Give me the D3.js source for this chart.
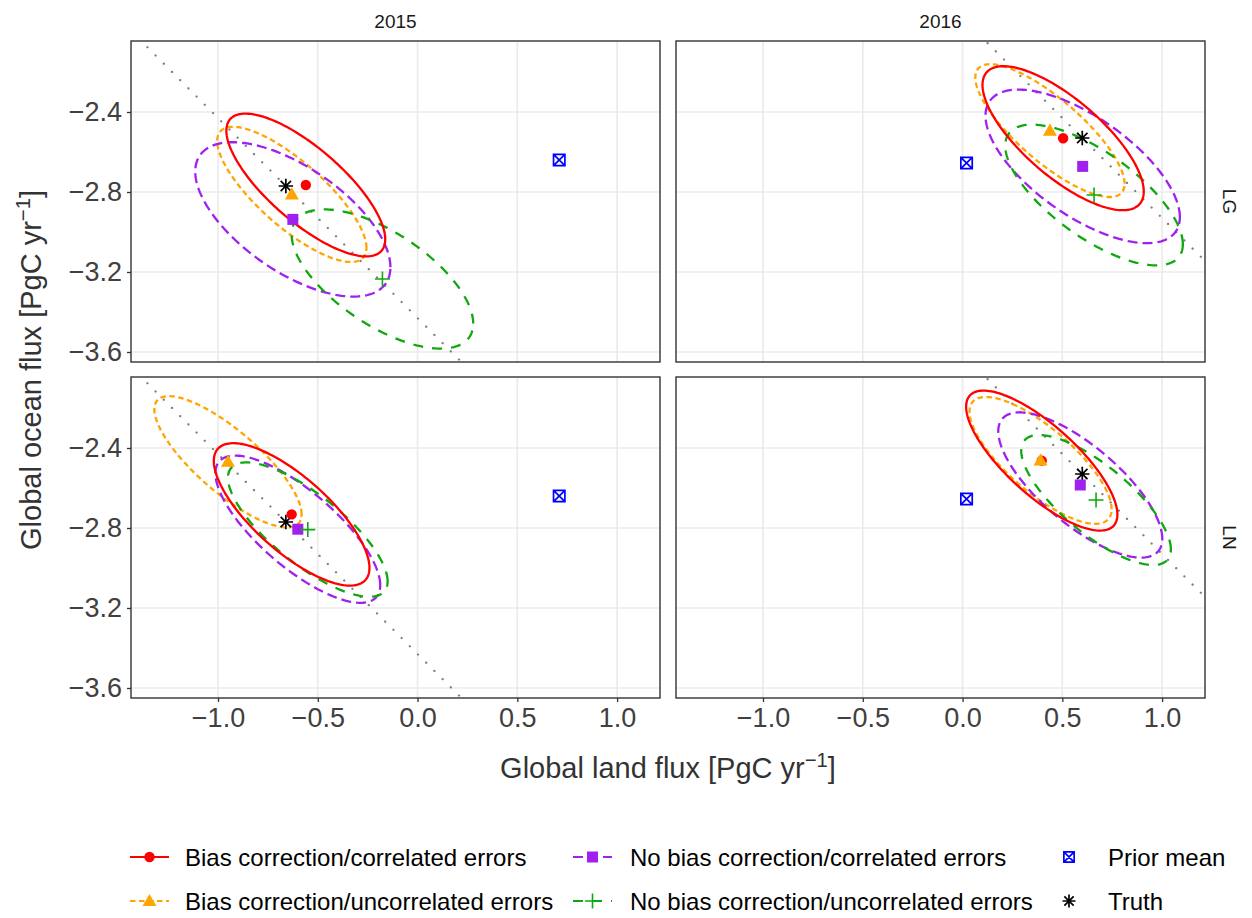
<!DOCTYPE html>
<html><head><meta charset="utf-8">
<script src="https://cdn.jsdelivr.net/npm/d3@7"></script>
<style>
body{margin:0;background:#fff}
svg{display:block;font-family:"Liberation Sans",Arial,Helvetica,sans-serif}
</style>
</head><body>
<svg id="chart" width="1252" height="918"></svg>
<script>
// ---- data -------------------------------------------------------------
const years = ["2015", "2016"];
const schemes = ["LG", "LN"];
// panels row by row: LG-2015, LG-2016, LN-2015, LN-2016
const panelScheme = ["LG", "LG", "LN", "LN"];
const panelYearIdx = [0, 1, 0, 1];

const truthLand = [-0.66, 0.60];     // by year
const truthOcean = [-2.77, -2.53];
const priorLand = [0.71, 0.02];
const priorOcean = [-2.64, -2.655];

const methods = [
  "Bias correction/correlated errors",
  "Bias correction/uncorrelated errors",
  "No bias correction/correlated errors",
  "No bias correction/uncorrelated errors"
];

// posterior means and error ellipses (half extents and correlation), per panel
const bcCorrLand = [-0.56, 0.504, -0.631, 0.397];
const bcCorrOcean = [-2.765, -2.531, -2.732, -2.463];
const bcCorrHalfLand = [0.398, 0.404, 0.390, 0.379];
const bcCorrHalfOcean = [0.357, 0.360, 0.356, 0.350];
const bcCorrRho = [-0.76, -0.74, -0.75, -0.77];

const bcUncLand = [-0.630, 0.438, -0.950, 0.391];
const bcUncOcean = [-2.812, -2.493, -2.469, -2.462];
const bcUncHalfLand = [0.374, 0.374, 0.369, 0.356];
const bcUncHalfOcean = [0.338, 0.332, 0.328, 0.317];
const bcUncRho = [-0.79, -0.80, -0.80, -0.77];

const nbcCorrLand = [-0.625, 0.602, -0.600, 0.590];
const nbcCorrOcean = [-2.937, -2.672, -2.806, -2.585];
const nbcCorrHalfLand = [0.489, 0.487, 0.413, 0.411];
const nbcCorrHalfOcean = [0.386, 0.384, 0.368, 0.363];
const nbcCorrRho = [-0.62, -0.66, -0.76, -0.74];

const nbcUncLand = [-0.176, 0.659, -0.550, 0.669];
const nbcUncOcean = [-3.235, -2.815, -2.808, -2.660];
const nbcUncHalfLand = [0.455, 0.445, 0.400, 0.375];
const nbcUncHalfOcean = [0.348, 0.352, 0.336, 0.325];
const nbcUncRho = [-0.64, -0.70, -0.77, -0.76];

const xTicks = [-1.0, -0.5, 0.0, 0.5, 1.0];
const yTicks = [-3.6, -3.2, -2.8, -2.4];
const xDomain = [-1.436, 1.215];
const yDomain = [-3.65, -2.045];

// ---- styles -----------------------------------------------------------
const methodStyle = [
  {color: "#FF0000", dash: null,      shape: "circle"},
  {color: "#FFA500", dash: "5.5 3.5", shape: "triangle"},
  {color: "#A020F0", dash: "10 5",    shape: "square"},
  {color: "#10A810", dash: "10 9",    shape: "plus"}
];
const methodData = [
  {land: bcCorrLand, ocean: bcCorrOcean, hl: bcCorrHalfLand, ho: bcCorrHalfOcean, rho: bcCorrRho},
  {land: bcUncLand, ocean: bcUncOcean, hl: bcUncHalfLand, ho: bcUncHalfOcean, rho: bcUncRho},
  {land: nbcCorrLand, ocean: nbcCorrOcean, hl: nbcCorrHalfLand, ho: nbcCorrHalfOcean, rho: nbcCorrRho},
  {land: nbcUncLand, ocean: nbcUncOcean, hl: nbcUncHalfLand, ho: nbcUncHalfOcean, rho: nbcUncRho}
];

const svg = d3.select("#chart");
const panelW = 529, panelH = 321;
const colX = [131, 676];
const rowY = [41, 377];
const tickFont = 27, titleFont = 29, legendFont = 24, stripFont = 19;

const x = d3.scaleLinear().domain(xDomain).range([0, panelW]);
const y = d3.scaleLinear().domain(yDomain).range([panelH, 0]);
const fmt = d3.format(".1f");

// marker drawing helper (centered at 0,0)
function drawMarker(g, shape, color, k = 1) {
  if (shape === "circle") {
    g.append("circle").attr("r", 5.2 * k).attr("fill", color);
  } else if (shape === "triangle") {
    g.append("path").attr("d", d3.symbol(d3.symbolTriangle, 85 * k * k)()).attr("fill", color)
      .attr("transform", "translate(0,1)");
  } else if (shape === "square") {
    g.append("path").attr("d", d3.symbol(d3.symbolSquare, 121 * k * k)()).attr("fill", color);
  } else if (shape === "plus") {
    const s = 7.5 * k;
    g.append("path").attr("d", `M${-s},0H${s}M0,${-s}V${s}`).attr("stroke", color)
      .attr("stroke-width", 1.6).attr("fill", "none");
  } else if (shape === "asterisk") {
    const s = 7.2 * k, d = s * 0.72;
    g.append("path").attr("d", `M${-s},0H${s}M0,${-s}V${s}M${-d},${-d}L${d},${d}M${-d},${d}L${d},${-d}`)
      .attr("stroke", color).attr("stroke-width", 1.7).attr("fill", "none");
  } else if (shape === "squarex") {
    const s = 5.7 * k;
    g.append("path").attr("d", `M${-s},${-s}H${s}V${s}H${-s}ZM${-s},${-s}L${s},${s}M${-s},${s}L${s},${-s}`)
      .attr("stroke", color).attr("stroke-width", 1.7).attr("fill", "none");
  }
}

function ellipsePoints(cx, cy, a, b, rho) {
  const s = Math.sqrt(1 - rho * rho);
  return d3.range(0, 361, 2).map(deg => {
    const t = deg * Math.PI / 180;
    return [cx + a * Math.cos(t), cy + b * (rho * Math.cos(t) + s * Math.sin(t))];
  });
}
const ellLine = d3.line().x(d => x(d[0])).y(d => y(d[1]));

const defs = svg.append("defs");

for (let p = 0; p < 4; p++) {
  const r = Math.floor(p / 2), c = p % 2;
  const yi = panelYearIdx[p];
  const g = svg.append("g").attr("transform", `translate(${colX[c]},${rowY[r]})`);

  defs.append("clipPath").attr("id", "clip" + p)
    .append("rect").attr("width", panelW).attr("height", panelH);

  // grid
  g.append("g").selectAll("line").data(xTicks).join("line")
    .attr("x1", d => x(d)).attr("x2", d => x(d)).attr("y1", 0).attr("y2", panelH)
    .attr("stroke", "#EBEBEB").attr("stroke-width", 1.7);
  g.append("g").selectAll("line").data(yTicks).join("line")
    .attr("y1", d => y(d)).attr("y2", d => y(d)).attr("x1", 0).attr("x2", panelW)
    .attr("stroke", "#EBEBEB").attr("stroke-width", 1.7);

  const body = g.append("g").attr("clip-path", `url(#clip${p})`);

  // line of constant total flux through the truth
  const total = truthLand[yi] + truthOcean[yi];
  body.append("line")
    .attr("x1", x(xDomain[0])).attr("y1", y(total - xDomain[0]))
    .attr("x2", x(xDomain[1])).attr("y2", y(total - xDomain[1]))
    .attr("stroke", "#7F7F7F").attr("stroke-width", 2.3)
    .attr("stroke-linecap", "round").attr("stroke-dasharray", "0.01 11.6");

  // error ellipses (solid one on top)
  [1, 2, 3, 0].forEach(m => {
    const md = methodData[m], st = methodStyle[m];
    body.append("path")
      .attr("d", ellLine(ellipsePoints(md.land[p], md.ocean[p], md.hl[p], md.ho[p], md.rho[p])) + "Z")
      .attr("fill", "none").attr("stroke", st.color).attr("stroke-width", 2.3)
      .attr("stroke-dasharray", st.dash);
  });

  // truth and prior
  drawMarker(body.append("g").attr("transform", `translate(${x(truthLand[yi])},${y(truthOcean[yi])})`), "asterisk", "#000");
  drawMarker(body.append("g").attr("transform", `translate(${x(priorLand[yi])},${y(priorOcean[yi])})`), "squarex", "#0000FF");

  // posterior means
  [0, 1, 2, 3].forEach(m => {
    const md = methodData[m], st = methodStyle[m];
    drawMarker(body.append("g").attr("transform", `translate(${x(md.land[p])},${y(md.ocean[p])})`), st.shape, st.color);
  });

  // border
  g.append("rect").attr("width", panelW).attr("height", panelH)
    .attr("fill", "none").attr("stroke", "#333333").attr("stroke-width", 1.4);

  // axes
  if (c === 0) {
    const ax = g.append("g").call(d3.axisLeft(y).tickValues(yTicks).tickFormat(fmt).tickSize(4).tickPadding(5));
    ax.select(".domain").remove();
    ax.selectAll(".tick line").attr("stroke", "#333333").attr("stroke-width", 1.3);
    ax.selectAll(".tick text").attr("fill", "#404040").attr("font-size", tickFont)
      .attr("font-family", "Liberation Sans, Arial, sans-serif");
  }
  if (r === 1) {
    const ax = g.append("g").attr("transform", `translate(0,${panelH})`)
      .call(d3.axisBottom(x).tickValues(xTicks).tickFormat(fmt).tickSize(4).tickPadding(6));
    ax.select(".domain").remove();
    ax.selectAll(".tick line").attr("stroke", "#333333").attr("stroke-width", 1.3);
    ax.selectAll(".tick text").attr("fill", "#404040").attr("font-size", tickFont)
      .attr("font-family", "Liberation Sans, Arial, sans-serif");
  }
}

// strip labels
years.forEach((yr, i) => {
  svg.append("text").attr("x", colX[i] + panelW / 2).attr("y", 21)
    .attr("text-anchor", "middle").attr("dominant-baseline", "central")
    .attr("font-size", stripFont).attr("fill", "#1A1A1A").text(yr);
});
schemes.forEach((s, i) => {
  svg.append("text").attr("transform", `translate(1229,${rowY[i] + panelH / 2}) rotate(90)`)
    .attr("text-anchor", "middle").attr("dominant-baseline", "central")
    .attr("font-size", stripFont).attr("fill", "#1A1A1A").text(s);
});

// axis titles
function unitTitle(sel, label) {
  sel.append("tspan").text(label + " [PgC yr");
  sel.append("tspan").attr("dy", -11).attr("font-size", "0.7em").text("\u22121");
  sel.append("tspan").attr("dy", 11).text("]");
}
unitTitle(svg.append("text").attr("x", 668).attr("y", 778)
  .attr("text-anchor", "middle").attr("font-size", titleFont).attr("fill", "#333333"), "Global land flux");
unitTitle(svg.append("text").attr("transform", "translate(41,370) rotate(-90)")
  .attr("text-anchor", "middle").attr("font-size", titleFont).attr("fill", "#333333"), "Global ocean flux");

// legend
const legendItems = [
  {label: methods[0], m: 0, kx: 130, tx: 185, ly: 857},
  {label: methods[1], m: 1, kx: 130, tx: 185, ly: 901},
  {label: methods[2], m: 2, kx: 573, tx: 630, ly: 857},
  {label: methods[3], m: 3, kx: 573, tx: 630, ly: 901}
];
legendItems.forEach(it => {
  const st = methodStyle[it.m];
  const lg = svg.append("g");
  lg.append("line").attr("x1", it.kx).attr("x2", it.kx + 39).attr("y1", it.ly).attr("y2", it.ly)
    .attr("stroke", st.color).attr("stroke-width", 2.2).attr("stroke-dasharray", st.dash);
  drawMarker(lg.append("g").attr("transform", `translate(${it.kx + 19.5},${it.ly})`), st.shape, st.color);
  lg.append("text").attr("x", it.tx).attr("y", it.ly).attr("dominant-baseline", "central")
    .attr("font-size", legendFont).attr("fill", "#000").text(it.label);
});
const pointItems = [
  {label: "Prior mean", shape: "squarex", color: "#0000FF", ly: 857},
  {label: "Truth", shape: "asterisk", color: "#000000", ly: 901}
];
pointItems.forEach(it => {
  drawMarker(svg.append("g").attr("transform", `translate(1069,${it.ly})`), it.shape, it.color, 0.9);
  svg.append("text").attr("x", 1108).attr("y", it.ly).attr("dominant-baseline", "central")
    .attr("font-size", legendFont).attr("fill", "#000").text(it.label);
});
</script>
</body></html>
